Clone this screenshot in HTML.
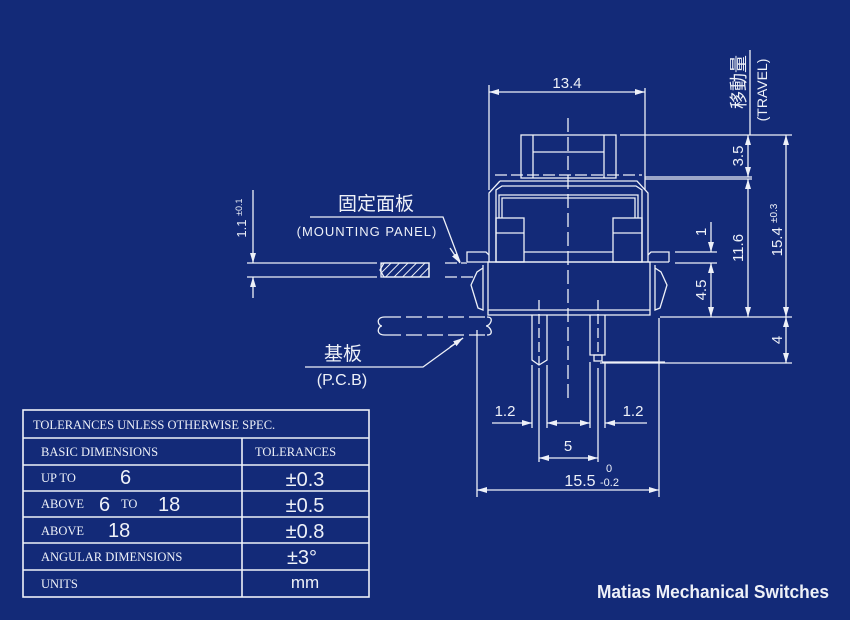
<!DOCTYPE html>
<html><head><meta charset="utf-8"><style>
html,body{margin:0;padding:0;background:#132a78;}
svg{display:block}
text{fill:#eef1f8;font-family:"Liberation Sans","Noto Sans CJK SC",sans-serif}
.t text{font-family:"Liberation Serif","Noto Serif CJK SC",serif;font-size:12.5px}
</style></head><body>
<svg width="850" height="620" viewBox="0 0 850 620" xmlns="http://www.w3.org/2000/svg">
<defs>
<marker id="a" viewBox="0 0 10 6" refX="10" refY="3" markerWidth="10" markerHeight="6" orient="auto-start-reverse" markerUnits="userSpaceOnUse"><path d="M0,0L10,3L0,6z" fill="#eef1f8"/></marker>
<pattern id="h" width="6" height="6" patternUnits="userSpaceOnUse" patternTransform="rotate(45)"><line x1="0" y1="0" x2="0" y2="6" stroke="#eef1f8" stroke-width="2"/></pattern>
</defs>
<rect width="850" height="620" fill="#132a78"/>
<g stroke="#eef1f8" stroke-width="1.3" fill="none">
<line x1="568" y1="118" x2="568" y2="400" stroke-dasharray="14,5"/>
<rect x="521" y="135" width="95" height="43"/>
<line x1="533" y1="135" x2="533" y2="178"/><line x1="604" y1="135" x2="604" y2="178"/>
<line x1="533" y1="152" x2="604" y2="152"/>
<line x1="495" y1="175" x2="642" y2="175" stroke-dasharray="12,4"/>
<path d="M500,181H637L648,193V262M500,181L489,193V262"/>
<path d="M496,262V190L502,186H636L642,190V262"/>
<path d="M499,218V195H638V218M502,218V198H635V218"/>
<rect x="496" y="218" width="28" height="44"/><line x1="496" y1="233" x2="524" y2="233"/>
<rect x="613" y="218" width="29" height="44"/><line x1="613" y1="233" x2="642" y2="233"/>
<line x1="524" y1="252" x2="613" y2="252"/>
<line x1="467" y1="262" x2="669" y2="262"/>
<path d="M467,262V252H486L489,255M669,262V252H651L648,255"/>
<rect x="488" y="262" width="162" height="53"/>
<line x1="488" y1="310" x2="650" y2="310"/>
<path d="M483,265V310L478,308L471,285L477,272L483,268"/>
<path d="M655,265V310L660,308L667,285L661,272L655,268"/>
<path d="M532,315V360L539,365L547,360V315"/><line x1="539" y1="300" x2="539" y2="365" stroke-dasharray="10,4"/>
<path d="M590,315V355H605V315"/><rect x="594" y="355" width="8" height="6"/><line x1="598" y1="300" x2="598" y2="355" stroke-dasharray="10,4"/>
<line x1="602" y1="362" x2="665" y2="362"/>
<line x1="489" y1="85" x2="489" y2="190"/><line x1="645" y1="88" x2="645" y2="190"/>
<line x1="489" y1="92" x2="645" y2="92" marker-start="url(#a)" marker-end="url(#a)"/>
<line x1="620" y1="135" x2="792" y2="135"/>
<line x1="645" y1="177" x2="752" y2="177"/><line x1="645" y1="179" x2="752" y2="179"/>
<line x1="660" y1="317" x2="792" y2="317"/>
<line x1="600" y1="363" x2="792" y2="363"/>
<line x1="748" y1="135" x2="748" y2="177" marker-start="url(#a)" marker-end="url(#a)"/>
<line x1="748" y1="179" x2="748" y2="317" marker-start="url(#a)" marker-end="url(#a)"/>
<line x1="786" y1="135" x2="786" y2="317" marker-start="url(#a)" marker-end="url(#a)"/>
<line x1="786" y1="317" x2="786" y2="363" marker-start="url(#a)" marker-end="url(#a)"/>
<line x1="675" y1="252" x2="717" y2="252"/><line x1="675" y1="263" x2="717" y2="263"/>
<line x1="711" y1="222" x2="711" y2="252" marker-end="url(#a)"/>
<line x1="711" y1="263" x2="711" y2="317" marker-start="url(#a)" marker-end="url(#a)"/>
<line x1="750" y1="50" x2="750" y2="135"/>
<line x1="247" y1="263" x2="377" y2="263"/><line x1="247" y1="277" x2="377" y2="277"/>
<line x1="253" y1="190" x2="253" y2="263" marker-end="url(#a)"/>
<line x1="253" y1="277" x2="253" y2="298" marker-start="url(#a)"/>
<rect x="381" y="263" width="48" height="14" fill="url(#h)"/>
<path d="M384,263H429V277H384L380,270Z"/>
<line x1="445" y1="263" x2="467" y2="263" stroke-dasharray="12,4"/><line x1="445" y1="277" x2="475" y2="277" stroke-dasharray="12,4"/>
<path d="M310,217H443L460,262" /><line x1="450" y1="248" x2="460" y2="263" marker-end="url(#a)"/>
<path d="M385,317H487M385,335H487" stroke-dasharray="16,5"/>
<path d="M385,317C375,317 378,326 382,326C378,326 375,335 385,335"/>
<path d="M487,317C495,317 490,326 486,326C490,326 495,335 487,335"/>
<path d="M305,367H423L463,338" /><line x1="450" y1="347" x2="463" y2="338" marker-end="url(#a)"/>
<line x1="532" y1="365" x2="532" y2="428"/><line x1="547" y1="365" x2="547" y2="428"/>
<line x1="590" y1="362" x2="590" y2="428"/><line x1="605" y1="362" x2="605" y2="428"/>
<line x1="539" y1="368" x2="539" y2="462"/><line x1="598" y1="368" x2="598" y2="462"/>
<line x1="492" y1="423" x2="532" y2="423" marker-end="url(#a)"/>
<line x1="547" y1="423" x2="590" y2="423" marker-start="url(#a)" marker-end="url(#a)"/>
<line x1="605" y1="423" x2="647" y2="423" marker-start="url(#a)"/>
<line x1="539" y1="458" x2="598" y2="458" marker-start="url(#a)" marker-end="url(#a)"/>
<line x1="477" y1="330" x2="477" y2="497"/><line x1="659" y1="318" x2="659" y2="497"/>
<line x1="477" y1="490" x2="659" y2="490" marker-start="url(#a)" marker-end="url(#a)"/>
<rect x="23" y="410" width="346" height="187" stroke-width="1.6"/>
<path d="M23,438H369M23,465H369M23,491H369M23,517H369M23,543H369M23,570H369M242,438V597" stroke-width="1.6"/>
</g>
<g font-size="15">
<text x="567" y="88" text-anchor="middle">13.4</text>
<text transform="translate(743,156) rotate(-90)" text-anchor="middle">3.5</text>
<text transform="translate(743,248) rotate(-90)" text-anchor="middle">11.6</text>
<text transform="translate(782,230) rotate(-90)" text-anchor="middle">15.4 <tspan font-size="10" dy="-5">±0.3</tspan></text>
<text transform="translate(782,340) rotate(-90)" text-anchor="middle">4</text>
<text transform="translate(706,232) rotate(-90)" text-anchor="middle">1</text>
<text transform="translate(706,290) rotate(-90)" text-anchor="middle">4.5</text>
<text transform="translate(745,82) rotate(-90)" text-anchor="middle" font-size="18">移動量</text>
<text transform="translate(767,90) rotate(-90)" text-anchor="middle" font-size="14">(TRAVEL)</text>
<text transform="translate(246,218) rotate(-90)" text-anchor="middle" font-size="13">1.1 <tspan font-size="9" dy="-4">±0.1</tspan></text>
<text x="376" y="210" text-anchor="middle" font-size="19">固定面板</text>
<text x="367" y="236" text-anchor="middle" font-size="13" letter-spacing="1">(MOUNTING PANEL)</text>
<text x="343" y="360" text-anchor="middle" font-size="19">基板</text>
<text x="342" y="385" text-anchor="middle" font-size="16">(P.C.B)</text>
<text x="505" y="416" text-anchor="middle">1.2</text>
<text x="633" y="416" text-anchor="middle">1.2</text>
<text x="568" y="451" text-anchor="middle">5</text>
<text x="580" y="486" text-anchor="middle" font-size="16">15.5</text>
<text x="606" y="472" font-size="11">0</text>
<text x="600" y="486" font-size="11">-0.2</text>
</g>
<g class="t">
<text x="33" y="429">TOLERANCES UNLESS OTHERWISE SPEC.</text>
<text x="41" y="456">BASIC DIMENSIONS</text>
<text x="255" y="456">TOLERANCES</text>
<text x="41" y="482">UP TO</text>
<text x="41" y="508">ABOVE</text>
<text x="121" y="508">TO</text>
<text x="41" y="535">ABOVE</text>
<text x="41" y="561">ANGULAR DIMENSIONS</text>
<text x="41" y="588">UNITS</text>
</g>
<g font-size="20">
<text x="120" y="484">6</text>
<text x="99" y="511">6</text>
<text x="158" y="511">18</text>
<text x="108" y="537">18</text>
<text x="305" y="486" text-anchor="middle">±0.3</text>
<text x="305" y="512" text-anchor="middle">±0.5</text>
<text x="305" y="538" text-anchor="middle">±0.8</text>
<text x="302" y="564" text-anchor="middle">±3°</text>
<text x="305" y="588" text-anchor="middle" font-size="17">mm</text>
</g>
<text x="597" y="598" font-size="18" font-weight="bold" textLength="232" lengthAdjust="spacingAndGlyphs" style="font-family:'Liberation Sans Narrow','Liberation Sans',sans-serif">Matias Mechanical Switches</text>
</svg>
</body></html>
